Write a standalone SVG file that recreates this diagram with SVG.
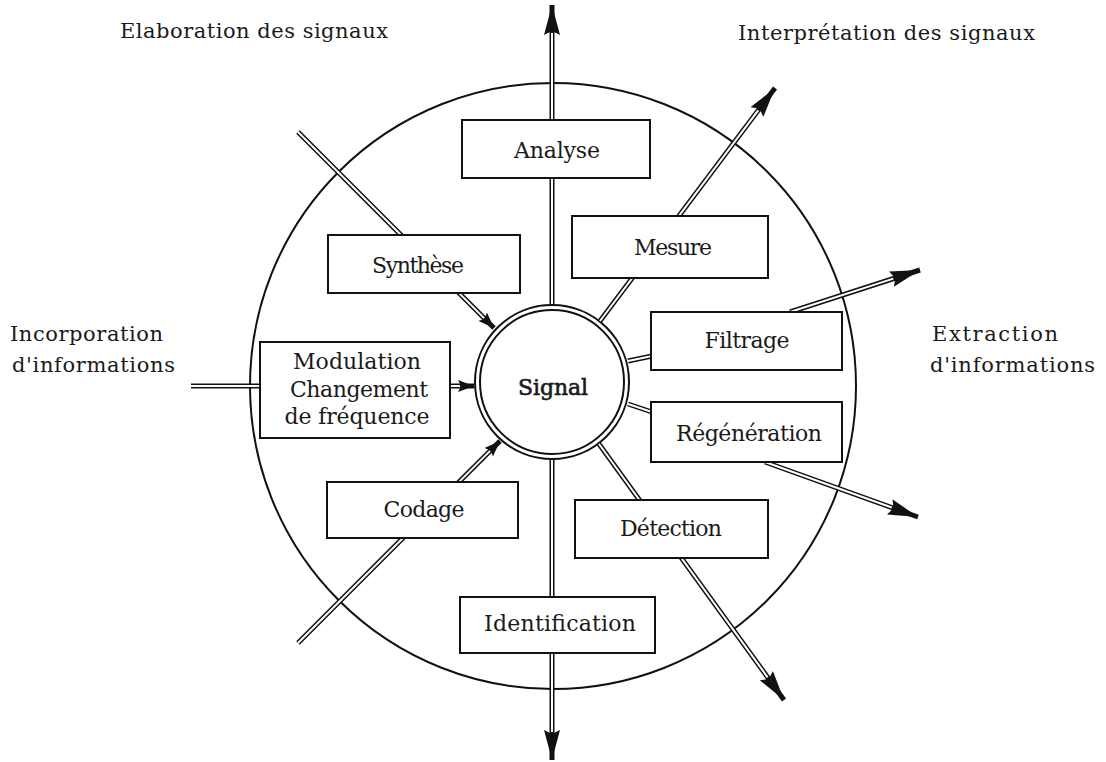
<svg xmlns="http://www.w3.org/2000/svg" width="1106" height="762" viewBox="0 0 1106 762">
<style>
  .t { font-family: "DejaVu Serif", "Liberation Serif", serif; font-size: 22px; fill: #1a1a1a; text-anchor: middle; }
  .h { font-family: "DejaVu Serif", "Liberation Serif", serif; font-size: 21px; fill: #1a1a1a; }
  .box { fill: #fff; stroke: #111; stroke-width: 2; }
  .o { stroke: #111; stroke-width: 5; fill: none; }
  .i { stroke: #fff; stroke-width: 2; fill: none; }
  .ob { stroke: #111; stroke-width: 5; fill: none; marker-end: url(#big); }
  .os { stroke: #111; stroke-width: 5; fill: none; marker-end: url(#small); }
</style>
<defs>
  <marker id="big" viewBox="0 0 30 16" markerUnits="userSpaceOnUse" markerWidth="30" markerHeight="16" refX="30" refY="8" orient="auto">
    <path d="M0,0 L30,8 L0,16 L4,8 z" fill="#111"/>
  </marker>
  <marker id="small" viewBox="0 0 16 12" markerUnits="userSpaceOnUse" markerWidth="16" markerHeight="12" refX="16" refY="6" orient="auto">
    <path d="M0,0 L16,6 L0,12 L3,6 z" fill="#111"/>
  </marker>
</defs>
<rect width="1106" height="762" fill="#fff"/>

<g id="headings">
  <text class="h" x="120" y="38" textLength="268">Elaboration des signaux</text>
  <text class="h" x="738" y="40" textLength="297">Interprétation des signaux</text>
  <text class="h" x="10" y="341" textLength="153">Incorporation</text>
  <text class="h" x="12" y="372" textLength="163">d'informations</text>
  <text class="h" x="932" y="341" textLength="126">Extraction</text>
  <text class="h" x="930" y="372" textLength="165">d'informations</text>
</g>

<g id="outer-circle">
  <circle cx="553" cy="386" r="303" fill="none" stroke="#111" stroke-width="2"/>
</g>

<g id="signal">
  <circle cx="552" cy="382" r="74.5" fill="#fff" stroke="#111" stroke-width="7"/>
  <circle cx="552" cy="382" r="74.5" fill="none" stroke="#fff" stroke-width="3"/>
  <text class="t" x="553" y="395" font-size="24" stroke="#1a1a1a" stroke-width="0.6" textLength="70">Signal</text>
</g>

<g id="connectors">
  <line class="ob" x1="552" y1="304" x2="552" y2="5"/>
  <line class="i" x1="552" y1="304" x2="552" y2="33"/>
  <line class="ob" x1="552" y1="460" x2="552" y2="760"/>
  <line class="i" x1="552" y1="460" x2="552" y2="732"/>
  <line class="ob" x1="600" y1="321" x2="775" y2="88"/>
  <line class="i" x1="600" y1="321" x2="758.2" y2="110.4"/>
  <line class="ob" x1="790" y1="312" x2="920" y2="270"/>
  <line class="i" x1="790" y1="312" x2="893.3" y2="278.6"/>
  <line class="ob" x1="765" y1="462" x2="918" y2="517"/>
  <line class="i" x1="765" y1="462" x2="891.7" y2="507.5"/>
  <line class="ob" x1="599" y1="444" x2="784" y2="700"/>
  <line class="i" x1="599" y1="444" x2="767.6" y2="677.3"/>
  <line class="o" x1="628" y1="361" x2="652" y2="356"/>
  <line class="i" x1="628" y1="361" x2="652" y2="356"/>
  <line class="o" x1="628" y1="404" x2="652" y2="412"/>
  <line class="i" x1="628" y1="404" x2="652" y2="412"/>
  <line class="os" x1="298" y1="132" x2="494" y2="328"/>
  <line class="i" x1="298" y1="132" x2="484.1" y2="318.1"/>
  <line class="o" x1="191" y1="386" x2="262" y2="386"/>
  <line class="i" x1="191" y1="386" x2="262" y2="386"/>
  <line class="os" x1="450" y1="386" x2="474" y2="386"/>
  <line class="i" x1="450" y1="386" x2="460" y2="386"/>
  <line class="os" x1="298" y1="643" x2="500" y2="441"/>
  <line class="i" x1="298" y1="643" x2="490.1" y2="450.9"/>
</g>

<g id="analyse">
  <rect class="box" x="462" y="120" width="188" height="58"/>
  <text class="t" x="557" y="158" textLength="86">Analyse</text>
</g>
<g id="mesure">
  <rect class="box" x="572" y="216" width="196" height="62"/>
  <text class="t" x="673" y="255" textLength="78">Mesure</text>
</g>
<g id="synthese">
  <rect class="box" x="328" y="235" width="192" height="58"/>
  <text class="t" x="418" y="273" textLength="92">Synthèse</text>
</g>
<g id="modulation">
  <rect class="box" x="260" y="342" width="190" height="96"/>
  <text class="t" x="357" y="369" textLength="128">Modulation</text>
  <text class="t" x="359" y="397" textLength="138">Changement</text>
  <text class="t" x="357" y="424" textLength="145">de fréquence</text>
</g>
<g id="codage">
  <rect class="box" x="327" y="482" width="191" height="56"/>
  <text class="t" x="424" y="517" textLength="81">Codage</text>
</g>
<g id="identification">
  <rect class="box" x="460" y="597" width="195" height="56"/>
  <text class="t" x="560" y="631" textLength="152">Identification</text>
</g>
<g id="filtrage">
  <rect class="box" x="651" y="312" width="191" height="58"/>
  <text class="t" x="747" y="348" textLength="85">Filtrage</text>
</g>
<g id="regeneration">
  <rect class="box" x="651" y="402" width="191" height="60"/>
  <text class="t" x="749" y="441" textLength="146">Régénération</text>
</g>
<g id="detection">
  <rect class="box" x="575" y="500" width="193" height="58"/>
  <text class="t" x="671" y="536" textLength="102">Détection</text>
</g>
</svg>
